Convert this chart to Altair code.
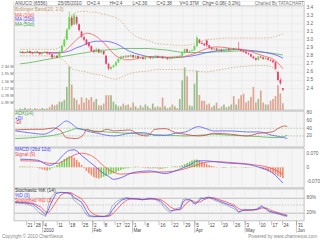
import json
import altair as alt
import pandas as pd

FONT = "Liberation Sans"
W = 291
HP, HA, HM, HS = 109, 36, 40, 32

# ---------------- daily data (trading-day index 0..107) ----------------
opens = [2.84,2.85,2.84,2.84,2.86,2.84,2.83,2.85,2.84,2.82,
         2.84,2.85,2.83,2.82,2.79,2.80,2.79,2.85,2.92,3.00,
         3.13,3.27,3.19,3.28,3.19,3.10,3.03,3.00,2.96,2.92,
         2.87,2.85,2.88,2.84,2.86,2.80,2.70,2.64,2.66,2.68,
         2.72,2.76,2.79,2.78,2.80,2.79,2.81,2.78,2.80,2.77,
         2.78,2.76,2.78,2.79,2.77,2.78,2.80,2.78,2.79,2.77,
         2.78,2.76,2.78,2.77,2.79,2.78,2.80,2.84,2.88,2.85,
         2.86,2.87,2.92,3.00,2.96,2.95,2.99,2.93,2.90,2.88,
         2.89,2.87,2.88,2.86,2.88,2.89,2.87,2.89,2.88,2.89,
         2.88,2.86,2.85,2.83,2.82,2.79,2.77,2.75,2.79,2.78,
         2.76,2.77,2.75,2.74,2.72,2.60,2.50,2.40]
highs = [2.86,2.86,2.85,2.87,2.86,2.85,2.86,2.86,2.84,2.85,
         2.86,2.85,2.84,2.82,2.81,2.81,2.86,2.93,3.01,3.14,
         3.35,3.30,3.33,3.30,3.20,3.11,3.05,3.01,2.97,2.93,
         2.88,2.90,2.89,2.87,2.86,2.81,2.71,2.67,2.69,2.73,
         2.77,2.80,2.80,2.81,2.81,2.82,2.81,2.81,2.80,2.79,
         2.79,2.79,2.80,2.79,2.79,2.81,2.80,2.80,2.80,2.79,
         2.78,2.79,2.79,2.80,2.80,2.81,2.85,2.89,2.89,2.87,
         2.88,2.93,3.05,3.01,2.98,2.96,3.00,2.94,2.91,2.90,
         2.90,2.89,2.89,2.89,2.90,2.90,2.90,2.90,2.90,2.97,
         2.89,2.87,2.86,2.84,2.83,2.80,2.78,2.80,2.80,2.79,
         2.78,2.78,2.76,2.75,2.73,2.61,2.52,2.40]
lows = [2.83,2.83,2.83,2.84,2.83,2.82,2.83,2.83,2.81,2.82,
        2.84,2.82,2.81,2.77,2.78,2.77,2.79,2.84,2.91,2.99,
        3.12,3.16,3.18,3.18,3.10,3.02,2.98,2.93,2.90,2.85,
        2.83,2.84,2.83,2.83,2.81,2.69,2.62,2.62,2.65,2.67,
        2.71,2.75,2.77,2.77,2.78,2.78,2.77,2.77,2.76,2.76,
        2.75,2.75,2.77,2.76,2.76,2.77,2.77,2.77,2.76,2.76,
        2.75,2.75,2.76,2.76,2.77,2.77,2.79,2.83,2.84,2.84,
        2.85,2.86,2.91,2.95,2.94,2.92,2.91,2.89,2.87,2.87,
        2.86,2.86,2.85,2.85,2.87,2.86,2.86,2.87,2.87,2.87,
        2.85,2.84,2.82,2.81,2.78,2.76,2.74,2.74,2.77,2.75,
        2.75,2.74,2.73,2.71,2.63,2.49,2.44,2.36]
closes = [2.85,2.84,2.84,2.86,2.84,2.83,2.85,2.84,2.82,2.84,
          2.85,2.83,2.82,2.78,2.80,2.78,2.85,2.92,3.00,3.12,
          3.28,3.18,3.30,3.20,3.12,3.04,3.00,2.94,2.92,2.86,
          2.85,2.88,2.84,2.86,2.82,2.70,2.64,2.66,2.68,2.72,
          2.76,2.79,2.78,2.80,2.79,2.81,2.78,2.80,2.77,2.78,
          2.76,2.78,2.79,2.77,2.78,2.80,2.78,2.79,2.77,2.78,
          2.76,2.78,2.77,2.79,2.78,2.80,2.84,2.88,2.85,2.86,
          2.87,2.92,3.02,2.96,2.95,2.93,2.93,2.90,2.88,2.89,
          2.87,2.88,2.86,2.88,2.89,2.87,2.89,2.88,2.89,2.88,
          2.86,2.85,2.83,2.82,2.79,2.77,2.75,2.79,2.78,2.76,
          2.77,2.75,2.74,2.72,2.64,2.50,2.46,2.38]
volumes_m = [0.08,0.05,0.12,0.06,0.10,0.04,0.09,0.07,0.05,0.11,
             0.06,0.08,0.15,0.30,0.25,0.30,0.45,0.45,0.55,1.25,
             2.35,1.37,0.65,0.55,0.30,0.69,0.40,0.65,0.55,0.70,
             0.45,0.60,0.25,0.25,0.35,0.80,0.80,0.80,0.45,0.30,
             0.20,0.20,0.35,0.25,0.30,0.15,0.40,0.20,0.10,0.25,
             0.15,0.30,0.20,0.10,0.35,0.15,0.20,0.15,0.67,0.20,
             0.10,0.15,0.30,0.20,0.10,0.60,1.60,2.30,1.82,0.25,
             0.20,1.42,2.12,0.81,0.50,0.50,0.30,0.35,0.15,0.25,
             0.40,0.10,0.20,0.30,0.15,0.20,0.30,0.75,0.30,0.60,
             0.80,0.88,0.40,0.50,0.70,1.25,0.40,0.60,1.05,0.40,
             0.30,0.30,0.50,0.60,0.75,1.34,0.90,0.37]
macd_hist = [0.004,0.005,0.004,0.003,0.004,0.003,0.002,
             -0.003,-0.006,-0.010,-0.014,-0.016,-0.012,
             -0.005,0.004,0.012,0.022,0.032,0.042,0.050,0.056,0.055,0.048,
             0.038,0.026,0.012,-0.004,-0.018,-0.030,-0.040,-0.048,-0.054,-0.056,
             -0.052,-0.047,-0.042,-0.037,-0.033,-0.030,-0.024,-0.018,-0.013,-0.009,
             -0.006,-0.004,-0.002,0.002,0.004,0.003,0.001,-0.002,-0.004,-0.005,
             -0.006,-0.005,-0.004,-0.006,-0.008,-0.007,-0.005,-0.003,0.000,0.003,
             0.005,0.004,0.006,
             0.010,0.016,0.022,0.028,0.034,0.038,0.040,
             0.034,0.028,0.022,0.016,0.011,0.007,0.004,0.002,
             0.001,-0.002,-0.003,-0.002,0.000,0.002,0.003,0.002,0.001,-0.001,
             -0.002,-0.003,-0.002,-0.001,0.001,0.000,-0.002,
             -0.006,-0.010,-0.014,-0.019,-0.024,-0.030,-0.036,-0.042,-0.048,-0.054]

# ---------------- moving averages / bands (sampled) ----------------
ma_idx = [0,5,10,14,17,19,21,23,25,27,29,31,33,35,37,39,41,43,45,48,
          52,56,60,64,68,72,76,80,84,88,92,96,100,103,105,107]
ma10 = [2.84,2.84,2.84,2.83,2.84,2.88,2.94,3.00,3.05,3.08,3.07,3.04,2.99,2.93,2.86,2.80,2.77,2.75,2.75,2.77,
        2.79,2.79,2.78,2.78,2.80,2.84,2.89,2.91,2.90,2.88,2.87,2.83,2.79,2.76,2.71,2.64]
ma20 = [2.84,2.84,2.84,2.84,2.84,2.85,2.87,2.90,2.92,2.95,2.97,2.98,2.98,2.98,2.97,2.95,2.92,2.88,2.85,2.82,
        2.79,2.78,2.78,2.78,2.79,2.81,2.84,2.86,2.87,2.88,2.87,2.86,2.84,2.82,2.80,2.77]
ma50 = [2.70,2.72,2.75,2.77,2.79,2.80,2.81,2.82,2.83,2.84,2.85,2.86,2.87,2.87,2.88,2.88,2.89,2.89,2.89,2.89,
        2.89,2.88,2.87,2.85,2.84,2.84,2.84,2.85,2.85,2.86,2.86,2.85,2.84,2.83,2.82,2.81]
bb_up = [2.88,2.88,2.88,2.88,2.93,3.10,3.28,3.34,3.35,3.35,3.34,3.34,3.32,3.31,3.29,3.27,3.23,3.16,3.09,3.03,
         2.99,2.95,2.94,2.93,2.93,2.96,3.00,3.01,3.02,3.02,3.02,3.02,3.02,3.03,3.05,3.07]
bb_lo = [2.80,2.80,2.80,2.79,2.76,2.70,2.64,2.62,2.61,2.60,2.58,2.57,2.56,2.54,2.52,2.51,2.53,2.56,2.58,2.60,
         2.61,2.63,2.63,2.63,2.62,2.61,2.60,2.62,2.64,2.66,2.67,2.68,2.68,2.65,2.58,2.48]

# ---------------- ADX ----------------
adx_idx = [0,7,11,15,18,20,22,24,27,28,31,33,36,39,45,49,52,55,59,63,67,72,75,78,85,91,96,101,104,106,107]
minus_di = [35.6,37.3,37.3,40.8,33,15.7,14,13.1,24.3,37.3,31.3,30.4,37.3,33,35.6,22.6,20,37.3,39.1,28.7,
            24.3,20,22,27,24.3,20,27,30.4,41.7,46,44.3]
plus_di = [33,27,24.3,35.6,50.3,59,53,41.7,35.6,33,28.7,26,21.7,20,27,28.7,27,21.7,21.7,27,
           30.4,44.3,39.1,33,33,30.4,30.4,21.7,18.3,15,13.1]
adx_line = [13.1,15.7,18.3,21.7,26,31,35,39.1,37.3,36,33,32,30.4,29,27,25.5,24.3,23,21.7,21,
            20,21.7,23,24.3,21.7,20,18.3,15.7,15.7,19,21.7]

# ---------------- MACD ----------------
macd_idx = [0,7,12,15,17,20,22,25,28,31,33,36,38,41,46,53,59,65,70,72,75,79,85,92,97,100,103,105,107]
macd_line = [0.041,0.036,0.010,0.028,0.055,0.085,0.088,0.060,0.030,0.000,-0.022,-0.045,-0.060,-0.052,-0.026,
             -0.018,-0.031,-0.009,0.018,0.032,0.033,0.029,0.021,0.016,0.002,-0.010,-0.030,-0.052,-0.079]
signal_line = [0.033,0.031,0.020,0.019,0.028,0.048,0.062,0.071,0.064,0.042,0.018,-0.012,-0.024,-0.034,-0.030,
               -0.024,-0.023,-0.014,0.004,0.012,0.024,0.029,0.025,0.018,0.010,0.004,-0.008,-0.020,-0.035]

# ---------------- Stochastic ----------------
sto_idx = [0,4,7,10,12,13,14,16,18,20,22,23,26,28,29,31,33,35,37,38,40,42,44,46,48,50,53,55,57,59,
           61,63,65,66,67,69,70,71,73,74,76,78,80,83,86,88,90,93,95,97,99,100,102,104,106,107]
pct_k = [58,55,45,15,5,50,80,100,100,97,90,70,45,10,4,3,6,4,15,45,65,75,80,72,74,70,78,72,60,35,
         20,35,40,72,74,68,55,58,80,75,82,70,62,50,35,20,34,28,36,48,28,22,18,12,6,5]
pct_d = [60,58,53,30,10,30,55,95,100,99,95,80,62,27,8,5,4,5,8,27,53,70,76,76,73,71,75,74,67,47,
         27,30,34,62,70,71,60,54,74,76,80,75,67,55,44,23,30,31,32,44,33,25,20,15,9,7]
smooth_d = [62,60,57,42,22,20,30,62,90,99,98,92,75,50,30,12,6,5,6,12,32,55,70,75,75,72,73,74,72,60,
            42,32,31,40,55,68,66,60,63,70,78,79,72,62,50,35,28,30,31,38,38,31,24,18,12,10]

# ---------------- time axis ----------------
tick_idx = [4.2,7.5,10.8,16.3,21.0,26.1,30.4,34.6,39.1,42.6,46.1,51.0,56.5,61.6,66.3,70.6,
            75.9,81.0,85.9,90.4,95.9,100.6,104.9,110.6]
tick_lbl = ["21","28","4","11","18","25","2","8","17","22","1","8","16","22","29","5",
            "12","19","26","3","10","17","24","31"]
month_idx = [10.8,30.4,46.1,70.6,90.4,110.6]
month_lbl = ["2010","Feb","Mar","Apr","May","Jun"]

# ---------------- frames ----------------
daily = pd.DataFrame({"i": list(range(len(closes))), "o": opens, "h": highs, "l": lows,
                      "c": closes, "v": volumes_m, "hist": macd_hist})
daily["hup"] = [True] + [macd_hist[k] >= macd_hist[k - 1] for k in range(1, len(macd_hist))]
ma_df = pd.DataFrame({"i": ma_idx, "ma10": ma10, "ma20": ma20, "ma50": ma50, "bbu": bb_up, "bbl": bb_lo})
adx_df = pd.DataFrame({"i": adx_idx, "mdi": minus_di, "pdi": plus_di, "adx": adx_line})
macd_df = pd.DataFrame({"i": macd_idx, "macd": macd_line, "sig": signal_line})
sto_df = pd.DataFrame({"i": sto_idx, "k": pct_k, "d": pct_d, "sd": smooth_d})
month_df = pd.DataFrame({"i": month_idx, "m": month_lbl})
tick_df = pd.DataFrame({"i": tick_idx})
dummy = pd.DataFrame({"z": [0]})

xs = alt.Scale(domain=[-0.5, 113.6], nice=False, zero=False)
sto_x_axis = alt.Axis(values=tick_idx, grid=False,
                      labelExpr=json.dumps(tick_lbl) + "[indexof(" + json.dumps(tick_idx) + ", datum.value)]",
                      tickSize=4, tickColor="#888888", tickWidth=0.5, labelAlign="left",
                      labelBaseline="middle", labelPadding=1, labelOffset=1, labelFontSize=4.6,
                      labelColor="#444444", labelOverlap=False, labelFlush=False, domain=False,
                      title=None, labelFont=FONT)


def X(axis=None):
    return alt.X("i:Q", scale=xs, axis=axis)


def vgrid(axis=None):
    return alt.Chart(tick_df).mark_rule(color="#e4e4e4", strokeWidth=0.5).encode(x=X(axis))


def yaxis(values, **kw):
    return alt.Axis(orient="right", values=values, ticks=False, domain=False, labelFontSize=4.8,
                    labelColor="#666666", labelPadding=2, title=None, labelOverlap=False,
                    labelFont=FONT, **kw)


def txt(s, px, py, color, size=4.8, align="left"):
    return alt.Chart(dummy).mark_text(text=s, align=align, baseline="middle", fontSize=size,
                                      font=FONT, color=color).encode(x=alt.value(px), y=alt.value(py))


# ---------------- price panel (header band on top) ----------------
ps = alt.Scale(domain=[2.128, 3.474], nice=False, zero=False)
price_axis = yaxis([2.4, 2.5, 2.6, 2.7, 2.8, 2.9, 3.0, 3.1, 3.2, 3.3, 3.4], format=".1f",
                   grid=True, gridColor="#e4e4e4", gridWidth=0.5)
vol_axis = alt.Axis(orient="left", values=[0.39, 0.78, 1.17, 1.56, 1.95, 2.34],
                    labelExpr="format(datum.value, '.2f') + ' M'", grid=False, ticks=False,
                    domain=False, labelFontSize=4, labelColor="#666666", labelPadding=1,
                    title=None, labelOverlap=False, labelFont=FONT)
vs = alt.Scale(domain=[0, 5.86], nice=False, zero=False)

up_col = "datum.c >= datum.o"
vol = alt.Chart(daily).mark_bar(width=1.7).encode(
    x=X(), y=alt.Y("v:Q", scale=vs, axis=vol_axis),
    color=alt.condition(up_col, alt.value("#9dbd8c"), alt.value("#dca693")))


def pline(col, color, dash=None):
    kw = dict(color=color, strokeWidth=0.8, interpolate="monotone", clip=True)
    if dash:
        kw["strokeDash"] = dash
    return alt.Chart(ma_df).mark_line(**kw).encode(x=X(), y=alt.Y(col + ":Q", scale=ps, axis=price_axis))


wick = alt.Chart(daily).mark_rule(strokeWidth=0.6).encode(
    x=X(), y=alt.Y("l:Q", scale=ps, axis=price_axis), y2="h:Q",
    color=alt.condition(up_col, alt.value("#4cc94c"), alt.value("#e0406a")))
body = alt.Chart(daily).mark_bar(width=1.8).encode(
    x=X(), y=alt.Y("o:Q", scale=ps, axis=price_axis), y2="c:Q",
    color=alt.condition(up_col, alt.value("#5fdc4a"), alt.value("#e8436c")))

price_layers = alt.layer(
    pline("bbu", "#d2aa80", [1.5, 1.5]), pline("bbl", "#d2aa80", [1.5, 1.5]),
    pline("ma50", "#5cb35c"), pline("ma20", "#5a5aff"), pline("ma10", "#ff5a5a"),
    wick, body)

header_band = alt.Chart(dummy).mark_rect(color="white").encode(
    x=alt.value(0), x2=alt.value(W), y=alt.value(0), y2=alt.value(4.5))
header_line = alt.Chart(dummy).mark_rule(color="#a0a0a0", strokeWidth=0.6).encode(
    x=alt.value(0), x2=alt.value(W), y=alt.value(4.5))

header = [("ANUCO (6556)", 1), ("25/05/2010", 44), ("O=2.4", 73), ("H=2.4", 96), ("L=2.36", 119),
          ("C=2.38", 143), ("V=0.37M", 166), ("Chg=-0.08(-3.2%)", 189)]
price_texts = [txt(s, px, 2.4, "#555555", 4.8) for s, px in header]
price_texts.append(txt("Charted By TATACHART", W, 2.4, "#777777", 4.5, "right"))
price_texts += [txt("Bollinger Band(20, 2.0)", 1, 9, "#c39868"),
                txt("MA (10d)", 1, 14.5, "#ff4a4a"),
                txt("MA (20d)", 1, 19, "#4a4aff"),
                txt("MA (50d)", 1, 24, "#3f9f3f")]

price_panel = alt.layer(vgrid(), vol, price_layers, header_band, header_line,
                        *price_texts).resolve_scale(y="independent").properties(width=W, height=HP)

# ---------------- ADX panel ----------------
as_ = alt.Scale(domain=[-8.6, 84.9], nice=False, zero=False)
adx_axis = yaxis([20, 40, 60, 80], grid=False)
adx_ref = alt.Chart(pd.DataFrame({"v": [20, 40]})).mark_rule(
    color="#8fbf8f", strokeDash=[1.5, 1.5], strokeWidth=0.7).encode(
    y=alt.Y("v:Q", scale=as_, axis=adx_axis))


def aline(col, color):
    return alt.Chart(adx_df).mark_line(color=color, strokeWidth=0.8, interpolate="monotone",
                                       clip=True).encode(
        x=X(), y=alt.Y(col + ":Q", scale=as_, axis=adx_axis))


adx_panel = alt.layer(
    vgrid(), adx_ref, aline("adx", "#55b855"), aline("pdi", "#6060ee"), aline("mdi", "#cc4646"),
    txt("ADX(14)", 1, 2.5, "#3f9f3f"), txt("+DI", 1, 7.5, "#4a4aff"), txt("-DI", 1, 12.5, "#cc3333"),
).properties(width=W, height=HA)

# ---------------- MACD panel ----------------
ms = alt.Scale(domain=[-0.1025, 0.0975], nice=False, zero=False)
macd_axis = yaxis([-0.07, 0, 0.07], grid=False,
                  labelExpr="datum.value == 0 ? '0' : (datum.value < 0 ? '-' : '') + format(abs(datum.value), '.3f')")
hist = alt.Chart(daily).mark_bar(width=1.6).encode(
    x=X(), y=alt.Y("hist:Q", scale=ms, axis=macd_axis),
    color=alt.condition("datum.hup", alt.value("#7fcc5c"), alt.value("#f08a6e")))


def mline(col, color):
    return alt.Chart(macd_df).mark_line(color=color, strokeWidth=0.8, interpolate="monotone",
                                        clip=True).encode(
        x=X(), y=alt.Y(col + ":Q", scale=ms, axis=macd_axis))


macd_panel = alt.layer(
    vgrid(), hist, mline("sig", "#ff5050"), mline("macd", "#5050ff"),
    txt("MACD (26d 12d)", 1, 2.5, "#4a4aff"), txt("Signal (9)", 1, 7.5, "#ff4040"),
).properties(width=W, height=HM)

# ---------------- Stochastic panel ----------------
ss = alt.Scale(domain=[-12, 114], nice=False, zero=False)
sto_axis = yaxis([20, 80], grid=True, gridColor="#9a9a9a", gridWidth=0.6,
                 labelExpr="datum.value + '%'")
mid = alt.Chart(pd.DataFrame({"v": [50]})).mark_rule(
    color="#aaaaaa", strokeDash=[1.5, 1.5], strokeWidth=0.6).encode(
    y=alt.Y("v:Q", scale=ss, axis=sto_axis))


def sline(col, color, width=0.8, opacity=1.0):
    return alt.Chart(sto_df).mark_line(color=color, strokeWidth=width, opacity=opacity,
                                       clip=True).encode(
        x=X(sto_x_axis), y=alt.Y(col + ":Q", scale=ss, axis=sto_axis))


month_ticks = alt.Chart(month_df).mark_rule(color="#888888", strokeWidth=0.5).encode(
    x=X(sto_x_axis), y=alt.value(HS), y2=alt.value(HS + 12))
month_text = alt.Chart(month_df).mark_text(align="left", baseline="middle", dx=1, fontSize=4.6,
                                           font=FONT, color="#444444").encode(
    x=X(sto_x_axis), y=alt.value(HS + 10), text="m:N")

sto_panel = alt.layer(
    vgrid(sto_x_axis), mid, sline("k", "#444444", 0.5, 0.7), sline("sd", "#ff4545"), sline("d", "#5050ff"),
    month_ticks, month_text,
    txt("Stochastic %K (14)", 1, 2.5, "#333333"), txt("%D (3)", 1, 7.5, "#4a4aff"),
    txt("Smoothed %D (3)", 1, 12.5, "#ff4040"),
    txt("Copyright \u00a9 2010 ChartNexus", -12, HS + 16, "#888888", 4.6),
    txt("Powered by www.chartnexus.com", W + 13, HS + 16, "#888888", 4.6, "right"),
).properties(width=W, height=HS)

chart = alt.vconcat(price_panel, adx_panel, macd_panel, sto_panel, spacing=1, bounds="flush").properties(
    padding=0).configure(font=FONT).configure_view(fill="#f5f5f5", stroke="#a0a0a0", strokeWidth=0.6)

chart.save("out.html", embed_options={"renderer": "svg", "actions": False})
